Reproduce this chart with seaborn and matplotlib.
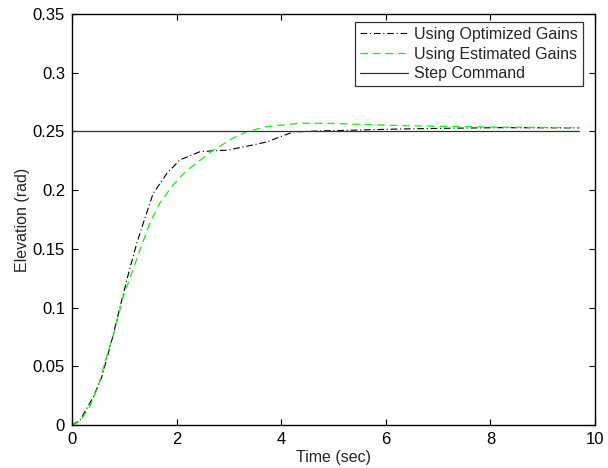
import matplotlib
matplotlib.use("Agg")
import matplotlib.pyplot as plt
import seaborn as sns
import pandas as pd

# Data
t_opt = [0, 0.153, 0.41, 0.57, 0.76, 0.92, 1.08, 1.24, 1.40, 1.55, 1.81, 2.06, 2.45, 2.7, 2.96, 3.3, 3.72, 4.23, 4.8, 5.5, 6.27, 7.2, 8.18, 9.7]
y_opt = [0, 0.004, 0.024, 0.041, 0.072, 0.1008, 0.129, 0.155, 0.177, 0.197, 0.214, 0.2257, 0.2328, 0.2335, 0.234, 0.237, 0.241, 0.2496, 0.2505, 0.2512, 0.2521, 0.2527, 0.2532, 0.253]

t_est = [0, 0.15, 0.34, 0.50, 0.66, 0.82, 0.98, 1.14, 1.30, 1.49, 1.68, 1.91, 2.13, 2.38, 2.70, 3.08, 3.34, 3.72, 4.36, 5.0, 6.27, 7.2, 8.18, 9.7]
y_est = [0, 0.003, 0.0156, 0.0326, 0.058, 0.081, 0.109, 0.129, 0.149, 0.172, 0.189, 0.203, 0.214, 0.223, 0.234, 0.2442, 0.2498, 0.254, 0.257, 0.2568, 0.255, 0.2542, 0.2536, 0.2532]

t_step = [0, 9.7]
y_step = [0.25, 0.25]

labels = ["Using Optimized Gains", "Using Estimated Gains", "Step Command"]

sns.set_style("white")
plt.rcParams['font.family'] = ['Liberation Sans', 'DejaVu Sans']

fig = plt.figure(figsize=(6.08, 4.68), dpi=100)
ax = fig.add_axes([72/608, 43/468, 523/608, 411/468])

df_opt = pd.DataFrame({"t": t_opt, "y": y_opt})
df_est = pd.DataFrame({"t": t_est, "y": y_est})
df_step = pd.DataFrame({"t": t_step, "y": y_step})

sns.lineplot(data=df_opt, x="t", y="y", ax=ax, color="black", linewidth=0.8,
             label=labels[0], estimator=None, sort=False)
ax.lines[-1].set_dashes([6, 2.5, 1, 2.5])
sns.lineplot(data=df_est, x="t", y="y", ax=ax, color="#00ff00", linewidth=0.9,
             label=labels[1], estimator=None, sort=False)
ax.lines[-1].set_dashes([6, 4])
sns.lineplot(data=df_step, x="t", y="y", ax=ax, color="#333333", linewidth=0.9,
             label=labels[2], estimator=None, sort=False)

ax.set_xlim(0, 10)
ax.set_ylim(0, 0.35)
ax.set_xticks([0, 2, 4, 6, 8, 10])
ax.set_xticklabels(["0", "2", "4", "6", "8", "10"])
yt = [0, 0.05, 0.1, 0.15, 0.2, 0.25, 0.3, 0.35]
ax.set_yticks(yt)
ax.set_yticklabels(["0", "0.05", "0.1", "0.15", "0.2", "0.25", "0.3", "0.35"])
ax.tick_params(direction="in", length=4, width=0.8, labelsize=12, top=True, right=True,
               bottom=True, left=True, colors="black", pad=5)
for s in ax.spines.values():
    s.set_color("black")
    s.set_linewidth(1.0)
ax.set_xlabel("Time (sec)", fontsize=11.5, labelpad=2)
ax.set_ylabel("Elevation (rad)", fontsize=11.5, labelpad=2)

leg = ax.legend(loc="upper right", bbox_to_anchor=(1 - 12/523, 1 - 8/411),
                fontsize=11.5, frameon=True, fancybox=False,
                handlelength=3.0, handletextpad=0.4, borderpad=0.3, labelspacing=0.3,
                borderaxespad=0.0)
leg.get_frame().set_edgecolor("black")
leg.get_frame().set_linewidth(0.9)

fig.savefig("out.png", dpi=100)
